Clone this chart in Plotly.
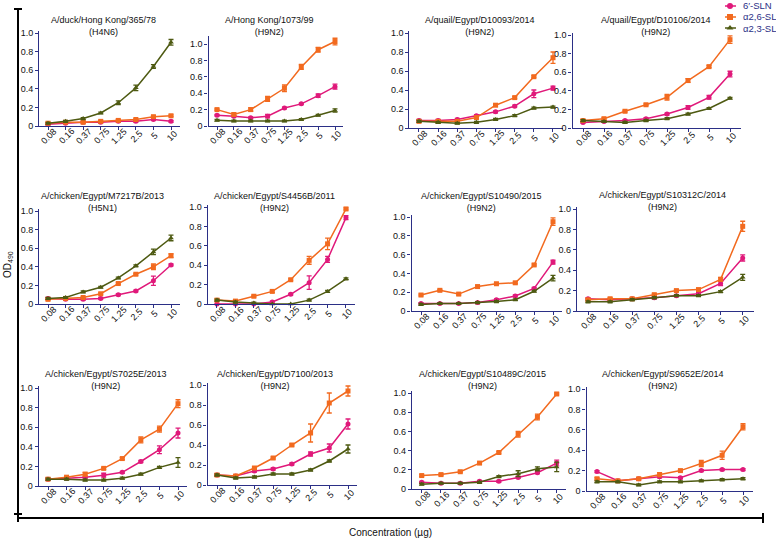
import plotly.graph_objects as go

W, H = 776, 539

concentrations = ["0.08", "0.16", "0.37", "0.75", "1.25", "2.5", "5", "10"]

strains = [
    "A/duck/Hong Kong/365/78", "A/Hong Kong/1073/99",
    "A/quail/Egypt/D10093/2014", "A/quail/Egypt/D10106/2014",
    "A/chicken/Egypt/M7217B/2013", "A/chicken/Egypt/S4456B/2011",
    "A/chicken/Egypt/S10490/2015", "A/chicken/Egypt/S10312C/2014",
    "A/chicken/Egypt/S7025E/2013", "A/chicken/Egypt/D7100/2013",
    "A/chicken/Egypt/S10489C/2015", "A/chicken/Egypt/S9652E/2014",
]
subtypes = ["H4N6", "H9N2", "H9N2", "H9N2", "H5N1", "H9N2",
            "H9N2", "H9N2", "H9N2", "H9N2", "H9N2", "H9N2"]

# OD490 values, one list per strain
sln6 = [
    [0.02, 0.03, 0.04, 0.04, 0.05, 0.05, 0.07, 0.05],
    [0.13, 0.12, 0.10, 0.12, 0.22, 0.27, 0.37, 0.48],
    [0.08, 0.08, 0.09, 0.13, 0.17, 0.23, 0.36, 0.42],
    [0.06, 0.07, 0.08, 0.10, 0.15, 0.22, 0.33, 0.58],
    [0.06, 0.05, 0.05, 0.06, 0.10, 0.14, 0.25, 0.42],
    [0.00, 0.00, 0.00, 0.02, 0.10, 0.22, 0.46, 0.89],
    [0.08, 0.08, 0.08, 0.09, 0.12, 0.16, 0.24, 0.52],
    [0.12, 0.11, 0.12, 0.13, 0.15, 0.17, 0.27, 0.52],
    [0.07, 0.08, 0.09, 0.11, 0.14, 0.25, 0.37, 0.54],
    [0.10, 0.09, 0.14, 0.16, 0.21, 0.31, 0.37, 0.61],
    [0.07, 0.06, 0.06, 0.08, 0.08, 0.12, 0.17, 0.27],
    [0.19, 0.10, 0.12, 0.14, 0.13, 0.20, 0.21, 0.21],
]
sln6_err = [
    [0.01, 0.01, 0.01, 0.01, 0.01, 0.01, 0.01, 0.01],
    [0.01, 0.01, 0.01, 0.02, 0.01, 0.01, 0.02, 0.03],
    [0.01, 0.01, 0.01, 0.01, 0.01, 0.01, 0.04, 0.02],
    [0.01, 0.01, 0.01, 0.01, 0.01, 0.02, 0.02, 0.03],
    [0.01, 0.01, 0.01, 0.01, 0.01, 0.01, 0.05, 0.01],
    [0.00, 0.00, 0.00, 0.01, 0.01, 0.07, 0.03, 0.02],
    [0.01, 0.01, 0.01, 0.01, 0.01, 0.01, 0.01, 0.02],
    [0.01, 0.01, 0.01, 0.01, 0.01, 0.01, 0.02, 0.03],
    [0.01, 0.01, 0.01, 0.02, 0.01, 0.01, 0.04, 0.05],
    [0.01, 0.01, 0.01, 0.01, 0.01, 0.02, 0.04, 0.05],
    [0.01, 0.01, 0.01, 0.01, 0.01, 0.01, 0.01, 0.03],
    [0.01, 0.01, 0.01, 0.01, 0.01, 0.01, 0.01, 0.01],
]

a26 = [
    [0.03, 0.04, 0.04, 0.05, 0.06, 0.07, 0.10, 0.11],
    [0.20, 0.14, 0.20, 0.33, 0.46, 0.72, 0.93, 1.03],
    [0.07, 0.07, 0.07, 0.11, 0.24, 0.32, 0.54, 0.74],
    [0.08, 0.10, 0.18, 0.25, 0.33, 0.51, 0.66, 0.95],
    [0.05, 0.06, 0.07, 0.11, 0.22, 0.32, 0.40, 0.52],
    [0.04, 0.03, 0.08, 0.13, 0.25, 0.45, 0.62, 0.98],
    [0.17, 0.22, 0.18, 0.26, 0.29, 0.30, 0.49, 0.95],
    [0.11, 0.12, 0.12, 0.16, 0.20, 0.21, 0.31, 0.83],
    [0.07, 0.09, 0.12, 0.18, 0.28, 0.47, 0.58, 0.84],
    [0.10, 0.09, 0.17, 0.27, 0.40, 0.52, 0.82, 0.94],
    [0.14, 0.15, 0.18, 0.27, 0.38, 0.57, 0.75, 0.99],
    [0.12, 0.10, 0.12, 0.16, 0.20, 0.27, 0.35, 0.63],
]
a26_err = [
    [0.01, 0.01, 0.01, 0.01, 0.01, 0.01, 0.01, 0.01],
    [0.01, 0.02, 0.02, 0.03, 0.04, 0.03, 0.03, 0.04],
    [0.01, 0.01, 0.01, 0.01, 0.01, 0.01, 0.01, 0.06],
    [0.01, 0.01, 0.01, 0.01, 0.03, 0.02, 0.01, 0.04],
    [0.01, 0.01, 0.01, 0.01, 0.01, 0.01, 0.03, 0.02],
    [0.01, 0.01, 0.01, 0.01, 0.01, 0.04, 0.06, 0.01],
    [0.01, 0.01, 0.01, 0.01, 0.01, 0.01, 0.01, 0.04],
    [0.01, 0.01, 0.01, 0.01, 0.01, 0.01, 0.02, 0.05],
    [0.01, 0.01, 0.02, 0.01, 0.01, 0.03, 0.03, 0.04],
    [0.01, 0.01, 0.01, 0.01, 0.01, 0.09, 0.10, 0.05],
    [0.01, 0.01, 0.01, 0.01, 0.01, 0.03, 0.03, 0.01],
    [0.01, 0.01, 0.01, 0.02, 0.01, 0.03, 0.04, 0.03],
]

a23 = [
    [0.03, 0.05, 0.08, 0.14, 0.25, 0.41, 0.64, 0.90],
    [0.07, 0.06, 0.06, 0.06, 0.06, 0.08, 0.13, 0.19],
    [0.07, 0.06, 0.05, 0.06, 0.09, 0.13, 0.21, 0.22],
    [0.08, 0.07, 0.06, 0.08, 0.10, 0.15, 0.21, 0.32],
    [0.06, 0.07, 0.13, 0.18, 0.28, 0.41, 0.56, 0.71],
    [0.04, 0.02, 0.01, 0.00, 0.00, 0.04, 0.13, 0.26],
    [0.07, 0.08, 0.08, 0.09, 0.10, 0.12, 0.21, 0.35],
    [0.09, 0.09, 0.11, 0.13, 0.15, 0.15, 0.19, 0.33],
    [0.07, 0.07, 0.06, 0.06, 0.08, 0.12, 0.19, 0.24],
    [0.10, 0.07, 0.08, 0.11, 0.11, 0.15, 0.24, 0.36],
    [0.05, 0.06, 0.06, 0.07, 0.13, 0.16, 0.21, 0.23],
    [0.09, 0.09, 0.06, 0.09, 0.09, 0.10, 0.11, 0.12],
]
a23_err = [
    [0.01, 0.01, 0.01, 0.01, 0.02, 0.03, 0.02, 0.03],
    [0.01, 0.01, 0.01, 0.01, 0.01, 0.01, 0.01, 0.02],
    [0.01, 0.01, 0.01, 0.01, 0.01, 0.01, 0.01, 0.01],
    [0.01, 0.01, 0.01, 0.01, 0.01, 0.01, 0.01, 0.01],
    [0.01, 0.01, 0.01, 0.01, 0.01, 0.01, 0.03, 0.03],
    [0.01, 0.01, 0.01, 0.00, 0.00, 0.01, 0.01, 0.01],
    [0.01, 0.01, 0.01, 0.01, 0.01, 0.01, 0.01, 0.03],
    [0.01, 0.01, 0.01, 0.01, 0.01, 0.01, 0.01, 0.03],
    [0.01, 0.01, 0.01, 0.01, 0.01, 0.01, 0.01, 0.05],
    [0.01, 0.01, 0.01, 0.01, 0.01, 0.01, 0.01, 0.04],
    [0.01, 0.01, 0.01, 0.01, 0.01, 0.03, 0.02, 0.05],
    [0.01, 0.01, 0.01, 0.01, 0.01, 0.01, 0.01, 0.01],
]

series_names = ["6\u2032-SLN", "\u03b12,6-SL", "\u03b12,3-SL"]
series_colors = ["#E0197A", "#F26A1F", "#4E5A12"]
series_symbols = ["circle", "square", "triangle-up"]

# panel geometry in pixels: first point x, last point x, y of 0, y of 1.0, y max
geom = [
    (48, 171, 126, 33, 1.02), (217, 335, 126, 44, 1.1),
    (419, 553, 128, 33, 1.02), (583, 730, 128, 35, 1.02),
    (48, 171, 304, 211, 1.02), (217, 346, 304, 207, 1.02),
    (421, 553, 311, 217, 1.02), (588, 742.7, 311, 209, 1.02),
    (48, 178, 486, 388, 1.02), (217, 348, 485, 385, 1.02),
    (421.7, 556.7, 489, 393, 1.02), (597, 743, 491, 389, 1.02),
]
title_pos = [
    (103, 19), (269, 19), (480, 19), (656, 19),
    (102, 195), (274, 195), (481, 195), (662, 194),
    (106, 373), (275, 373), (482, 373), (663, 373),
]

AX = "#2B2F86"
FONT = "Liberation Sans, Arial, sans-serif"

fig = go.Figure()
layout = dict(
    width=W, height=H, margin=dict(l=0, r=0, t=0, b=0, autoexpand=False),
    paper_bgcolor="white", plot_bgcolor="white",
    font=dict(family=FONT, size=9, color="#111"),
    showlegend=False,
)

annotations = []
for i in range(12):
    k = i + 1
    sfx = "" if k == 1 else str(k)
    p0, p7, y0, y1, ymax = geom[i]
    s = (p7 - p0) / 7
    xa, xb = p0 - 0.5 * s, p7 + 0.5 * s
    ytop = y0 - ymax * (y0 - y1)
    layout["xaxis" + sfx] = dict(
        domain=[xa / W, xb / W], anchor="y" + sfx, range=[-0.5, 7.5],
        tickmode="array", tickvals=list(range(8)), showticklabels=False,
        showline=True, linecolor=AX, linewidth=1.3,
        ticks="outside", ticklen=3, tickcolor=AX, tickwidth=1,
        showgrid=False, zeroline=False, fixedrange=True,
    )
    layout["yaxis" + sfx] = dict(
        domain=[1 - y0 / H, 1 - ytop / H], anchor="x" + sfx, range=[0, ymax],
        tickmode="array", tickvals=[0, 0.2, 0.4, 0.6, 0.8, 1.0],
        ticktext=["0", "0.2", "0.4", "0.6", "0.8", "1.0"],
        showline=True, linecolor=AX, linewidth=1.3,
        ticks="outside", ticklen=3, tickcolor=AX, tickwidth=1,
        showgrid=False, zeroline=False, fixedrange=True,
        tickfont=dict(size=9, family=FONT, color="#111"),
    )
    # rotated category labels, centred under each tick (Prism style)
    for c, lab in enumerate(concentrations):
        annotations.append(dict(
            x=c, xref="x" + sfx, y=1 - (y0 + 10) / H, yref="paper",
            text=lab, textangle=-45, showarrow=False,
            xanchor="center", yanchor="middle", xshift=1,
            font=dict(size=9, family=FONT, color="#111"),
        ))
    tx, ty = title_pos[i]
    annotations.append(dict(
        x=tx / W, y=1 - (ty - 6) / H, xref="paper", yref="paper",
        xanchor="center", yanchor="top", showarrow=False,
        text=f"{strains[i]}<br>({subtypes[i]})",
        font=dict(size=9, family=FONT, color="#111"),
    ))
    for j, (vals, errs) in enumerate([(sln6, sln6_err), (a26, a26_err), (a23, a23_err)]):
        fig.add_trace(go.Scatter(
            x=list(range(8)), y=vals[i], xaxis="x" + sfx, yaxis="y" + sfx,
            mode="lines+markers", name=series_names[j],
            line=dict(color=series_colors[j], width=1.5),
            marker=dict(symbol=series_symbols[j], size=5, color=series_colors[j]),
            error_y=dict(type="data", array=errs[i], visible=True,
                         color=series_colors[j], thickness=1.3, width=2.5),
            cliponaxis=False,
        ))

# legend (key) drawn in a small dedicated axis, pixel-like units
legend_rows = [6, 17, 28]
layout["xaxis13"] = dict(domain=[720 / W, 740 / W], range=[0, 20], visible=False,
                         anchor="y13", fixedrange=True)
layout["yaxis13"] = dict(domain=[1 - 34 / H, 1.0], range=[34, 0], visible=False,
                         anchor="x13", fixedrange=True)
for j in range(3):
    fig.add_trace(go.Scatter(
        x=[5, 16], y=[legend_rows[j]] * 2, xaxis="x13", yaxis="y13",
        mode="lines", line=dict(color=series_colors[j], width=1.5),
        hoverinfo="skip", cliponaxis=False,
    ))
    fig.add_trace(go.Scatter(
        x=[10], y=[legend_rows[j]], xaxis="x13", yaxis="y13",
        mode="markers", marker=dict(symbol=series_symbols[j], size=6, color=series_colors[j]),
        hoverinfo="skip", cliponaxis=False,
    ))
    annotations.append(dict(
        x=741 / W, y=1 - legend_rows[j] / H, xref="paper", yref="paper",
        xanchor="left", yanchor="middle", showarrow=False, text=series_names[j],
        font=dict(size=9.5, family=FONT, color=AX),
    ))

annotations.append(dict(
    x=8 / W, y=1 - 265 / H, xref="paper", yref="paper", textangle=-90,
    text="OD<sub>490</sub>", showarrow=False, xanchor="center", yanchor="middle",
    font=dict(size=10, family=FONT, color="#111"),
))
annotations.append(dict(
    x=390 / W, y=1 - 532 / H, xref="paper", yref="paper",
    text="Concentration (\u00b5g)", showarrow=False, xanchor="center", yanchor="middle",
    font=dict(size=10, family=FONT, color="#111"),
))
layout["annotations"] = annotations

def px(x, y):
    return x / W, 1 - y / H

shapes = []
for (xa, ya, xb, yb) in [
    (18, 9, 18, 514),     # big vertical axis
    (14, 9, 22, 9),       # top cap
    (14, 514, 22, 514),   # bottom cap
    (18, 518, 763, 518),  # big horizontal axis
    (18, 514, 18, 522),   # left cap
    (763, 513, 763, 523), # right cap
]:
    x0, y0_ = px(xa, ya)
    x1, y1_ = px(xb, yb)
    shapes.append(dict(type="line", xref="paper", yref="paper",
                       x0=x0, y0=y0_, x1=x1, y1=y1_,
                       line=dict(color="black", width=2)))
layout["shapes"] = shapes

fig.update_layout(**layout)
fig.write_html(
    "out.html",
    config={"displayModeBar": False},
    post_script="document.body.style.margin='0';document.body.style.overflow='hidden';",
)
